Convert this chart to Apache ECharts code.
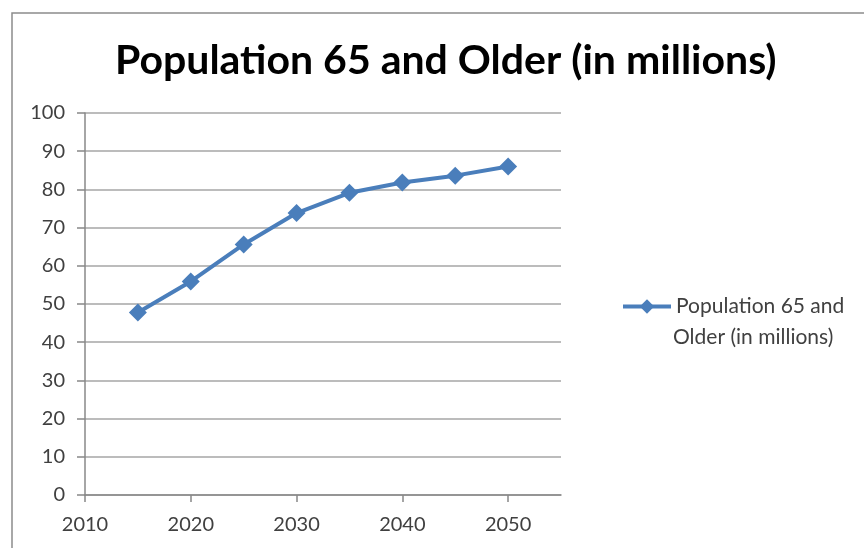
<!DOCTYPE html>
<html>
<head>
<meta charset="utf-8">
<script src="https://cdn.jsdelivr.net/npm/echarts@6/dist/echarts.min.js"></script>
<style>
  html, body { margin: 0; padding: 0; background: #fff; }
  #chart { width: 864px; height: 548px; }
</style>
</head>
<body>
<div id="chart"></div>
<script>
// data
const years = [2015, 2020, 2025, 2030, 2035, 2040, 2045, 2050];
const population = [47.8, 55.9, 65.6, 73.8, 79.1, 81.8, 83.6, 86.0];
const xTicks = [2010, 2020, 2030, 2040, 2050];
const seriesName = 'Population 65 and Older (in millions)';

const font = 'Lato';
const textColor = '#404040';
const lineColor = '#4a7ebb';
const chart = echarts.init(document.getElementById('chart'));

chart.setOption({
  animation: false,
  title: {
    text: seriesName,
    left: 110,
    top: 35,
    textStyle: { fontFamily: font, fontWeight: 'bold', fontSize: 41, color: '#000' }
  },
  graphic: [{
    type: 'rect',
    shape: { x: 12, y: 13, width: 900, height: 600 },
    style: { fill: null, stroke: '#8c8c8c', lineWidth: 1.5 },
    silent: true
  }, {
    // legend wraps onto a second line in the original
    type: 'text',
    left: 673,
    top: 327,
    style: { text: 'Older (in millions)', font: '21px ' + font, fill: textColor },
    silent: true
  }],
  legend: {
    left: 616,
    top: 291,
    itemWidth: 48,
    itemHeight: 18,
    formatter: () => 'Population 65 and',
    lineStyle: { width: 4 },
    textStyle: { fontFamily: font, fontSize: 21, color: textColor },
    data: [seriesName]
  },
  grid: { left: 85, right: 303, top: 113, bottom: 53, containLabel: false },
  xAxis: {
    type: 'value',
    min: 2010,
    max: 2055,
    interval: 10,
    axisLine: { show: true, lineStyle: { color: '#888', width: 1.5 } },
    axisTick: { show: true, length: 7, customValues: xTicks, lineStyle: { color: '#888', width: 1.5 } },
    axisLabel: {
      customValues: xTicks,
      formatter: v => String(v),
      fontFamily: font, fontSize: 20, color: textColor, margin: 20
    },
    splitLine: { show: false }
  },
  yAxis: {
    type: 'value',
    min: 0,
    max: 100,
    interval: 10,
    axisLine: { show: true, lineStyle: { color: '#888', width: 1.5 } },
    axisTick: { show: true, length: 8, lineStyle: { color: '#888', width: 1.5 } },
    axisLabel: { fontFamily: font, fontSize: 20, color: textColor, margin: 20 },
    splitLine: { show: true, lineStyle: { color: '#a6a6a6', width: 1.5 } }
  },
  series: [{
    name: seriesName,
    type: 'line',
    data: years.map((y, i) => [y, population[i]]),
    symbol: 'diamond',
    symbolSize: 18,
    lineStyle: { color: lineColor, width: 4 },
    itemStyle: { color: lineColor }
  }]
});
</script>
</body>
</html>
